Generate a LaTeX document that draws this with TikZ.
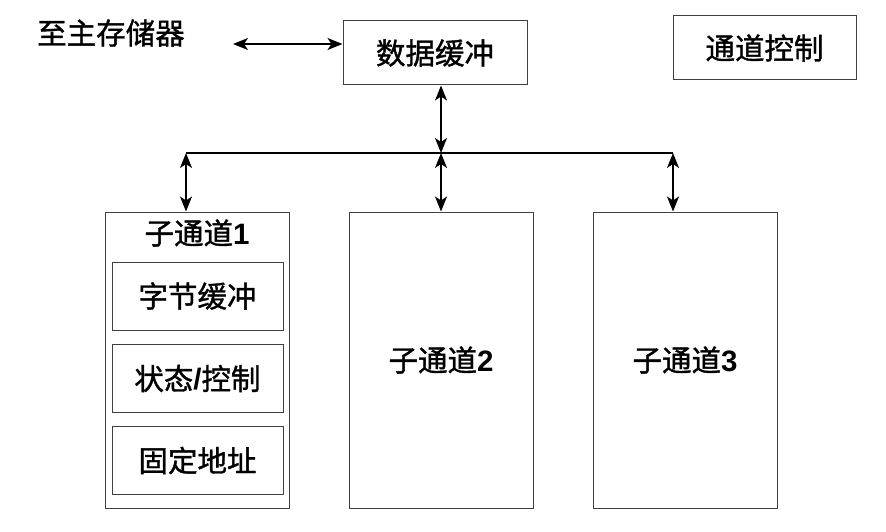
\documentclass[tikz,border=0pt]{standalone}
\usepackage{fontspec}
\setmainfont{Liberation Sans}
\newfontfamily\cjk[FakeBold=1.2]{Noto Sans CJK SC}
\usetikzlibrary{arrows.meta}
\begin{document}
\begin{tikzpicture}[x=1pt,y=-1pt,
  box/.style={draw=black!75,line width=1pt,inner sep=0pt,font=\fontsize{29.5}{32}\selectfont},
  link/.style={line width=1.8pt,{Stealth[length=15pt,width=12pt,inset=4pt]}-{Stealth[length=15pt,width=12pt,inset=4pt]}},
  lbl/.style={inner sep=0pt,font=\fontsize{29.5}{32}\selectfont}]
\useasboundingbox[fill=white] (0,0) rectangle (886,532);
% top row
\node[lbl] (mem) at (111,33) {\cjk 至主存储器};
\node[box,minimum width=184pt,minimum height=64pt] (buf) at (435,53) {\cjk 数据缓冲};
\node[box,minimum width=183pt,minimum height=64pt] (ctrl) at (764.5,48) {\cjk 通道控制};
\coordinate (memend) at (233,44);
\draw[link] (memend) -- (memend -| buf.west);
% bus
\coordinate (busL) at (186,153);
\coordinate (busM) at (441,153);
\coordinate (busR) at (673,153);
\draw[line width=2.6pt] (busL) -- (busR);
% sub channels
\node[box,minimum width=184pt,minimum height=296pt] (s1) at (197,360) {};
\node[box,minimum width=184pt,minimum height=296pt] (s2) at (441,360) {{\cjk 子通道}\textbf{2}};
\node[box,minimum width=184pt,minimum height=296pt] (s3) at (685,360) {{\cjk 子通道}\textbf{3}};
\node[lbl] (s1t) at (197,233) {{\cjk 子通道}\textbf{1}};
\node[box,minimum width=171pt,minimum height=68pt] (b1) at (197.5,296) {\cjk 字节缓冲};
\node[box,minimum width=171pt,minimum height=68pt] (b2) at (197.5,378.5) {{\cjk 状态}\textbf{/}{\cjk 控制}};
\node[box,minimum width=171pt,minimum height=68pt] (b3) at (197.5,460.5) {\cjk 固定地址};
% vertical links
\draw[link] (buf.south -| busM) -- (busM);
\draw[link] (busL) -- (busL |- s1.north);
\draw[link] (busM) -- (busM |- s2.north);
\draw[link] (busR) -- (busR |- s3.north);
\end{tikzpicture}
\end{document}
